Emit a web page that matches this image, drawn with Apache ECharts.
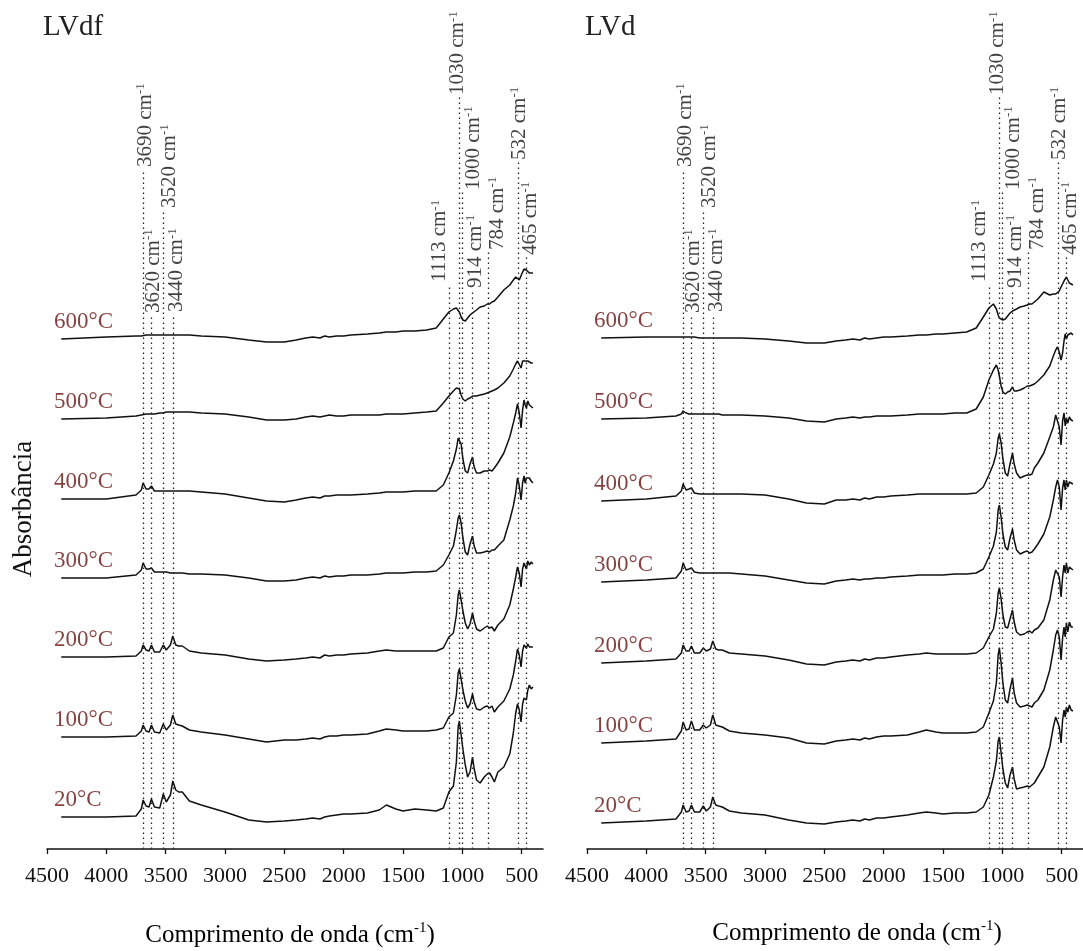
<!DOCTYPE html>
<html>
<head>
<meta charset="utf-8">
<script src="https://cdn.jsdelivr.net/npm/echarts@6/dist/echarts.min.js"></script>
<style>
  html, body { margin: 0; padding: 0; background: #fff; }
  #chart { width: 1083px; height: 951px; }
</style>
</head>
<body>
<div id="chart"></div>
<script>
  // wavenumbers (cm-1) shared by every spectrum
  var wn = [4380, 4000, 3750,
    3705, 3690, 3665, 3640, 3620, 3595, 3550, 3520, 3495, 3460, 3440, 3415, 3390, 3360, 3300, 3200,
    3000, 2800, 2650, 2500, 2400, 2320, 2260, 2200, 2160, 2120, 2060, 2000, 1940, 1800, 1700, 1640, 1560, 1500, 1400, 1300, 1220, 1160,
    1113, 1075, 1050, 1035, 1025, 1010, 995, 975, 955, 935, 914, 900, 880, 850, 815, 790, 770, 750, 730, 700, 650,
    600, 570, 550, 535, 520, 505, 492, 480, 470, 460, 448, 435, 420, 405];

  var temps = ['20°C', '100°C', '200°C', '300°C', '400°C', '500°C', '600°C'];

  // vertical offset of each spectrum (stacked plot)
  var lvdfOffset = [32, 112, 192, 271, 350, 430, 510];
  var lvdOffset = [26, 106, 186, 267, 348, 430, 511];

  // LVdf spectra
  var lvdf20 = [0, 0, 1,
    8, 17, 11, 10, 18, 10, 9, 23, 15, 22, 36, 27, 25, 25, 16, 12,
    5, -3, -5, -4, -3, -2, -1, -2, 0, 1, 2, 3, 3, 4, 7, 12, 8, 6, 8, 7, 6, 9,
    25, 31, 55, 90, 96, 82, 68, 52, 40, 45, 60, 48, 37, 34, 40, 43, 44, 40, 35, 45, 50,
    63, 84, 104, 113, 107, 95, 113, 119, 121, 117, 127, 132, 128, 130];
  var lvdf100 = [0, 0, 1,
    6, 12, 6, 5, 12, 5, 4, 13, 7, 12, 22, 13, 12, 11, 7, 5,
    2, -2, -5, -3, -3, -2, -1, -2, 0, 1, 1, 2, 2, 3, 6, 8, 7, 6, 6, 6, 7, 9,
    20, 24, 42, 64, 68, 58, 47, 36, 29, 33, 43, 35, 28, 27, 30, 31, 29, 31, 25, 30, 36,
    48, 62, 76, 88, 82, 70, 86, 92, 94, 89, 93, 90, 92, 90];
  var lvdf200 = [0, 0, 1,
    6, 12, 7, 6, 12, 5, 5, 12, 7, 12, 21, 12, 11, 11, 6, 4,
    2, -2, -4, -3, -2, -1, 0, -1, 2, 1, 2, 2, 3, 4, 6, 7, 6, 6, 6, 6, 6, 9,
    20, 24, 42, 62, 67, 57, 46, 34, 28, 33, 44, 36, 28, 26, 29, 31, 29, 30, 26, 32, 38,
    52, 68, 80, 90, 84, 70, 88, 94, 92, 88, 96, 92, 95, 93];
  var lvdf300 = [0, 0, 3,
    8, 15, 9, 9, 10, 6, 6, 6, 6, 5, 5, 5, 5, 5, 4, 4,
    3, 0, -3, -3, -2, 0, 1, 0, 2, 1, 2, 2, 3, 3, 4, 5, 5, 5, 6, 6, 7, 13,
    23, 32, 48, 60, 63, 55, 40, 26, 23, 34, 42, 32, 25, 25, 26, 27, 26, 28, 28, 32, 38,
    58, 72, 85, 100, 92, 78, 95, 102, 95, 100, 102, 100, 97, 95];
  var lvdf400 = [0, 0, 4,
    9, 16, 10, 10, 13, 8, 8, 8, 8, 8, 8, 8, 8, 8, 8, 7,
    5, 1, -2, -3, -1, 1, 2, 1, 3, 3, 4, 4, 4, 5, 6, 7, 7, 7, 8, 8, 8, 14,
    26, 38, 50, 61, 63, 55, 40, 28, 26, 35, 42, 32, 26, 26, 28, 28, 29, 28, 31, 36, 46,
    62, 76, 86, 95, 86, 71, 89, 99, 94, 91, 98, 94, 93, 91];
  var lvdf500 = [0, 1, 3,
    4, 5, 5, 5, 5, 5, 6, 6, 7, 7, 7, 7, 7, 7, 7, 6,
    5, 2, -1, -1, 0, 2, 3, 2, 3, 4, 3, 3, 4, 4, 4, 5, 5, 5, 6, 7, 8, 16,
    23, 28, 31, 32, 30, 24, 20, 18, 20, 21, 23, 22, 23, 24, 25, 26, 27, 28, 29, 31, 36,
    43, 50, 55, 58, 56, 51, 58, 59, 58, 58, 58, 57, 56, 56];
  var lvdf600 = [0, 2, 3,
    3, 4, 4, 4, 4, 4, 4, 4, 4, 4, 4, 4, 4, 4, 4, 3,
    2, -1, -3, -3, -1, 1, 2, 1, 3, 2, 3, 3, 4, 5, 6, 7, 7, 8, 8, 9, 11, 20,
    27, 30, 31, 30, 27, 22, 19, 18, 21, 24, 26, 28, 29, 32, 33, 35, 35, 37, 38, 42, 49,
    54, 59, 62, 62, 59, 60, 67, 70, 71, 69, 68, 66, 67, 66];

  // LVd spectra
  var lvd20 = [0, 2, 4,
    11, 18, 11, 12, 18, 11, 11, 17, 12, 16, 26, 18, 17, 16, 12, 10,
    8, 3, 0, -1, 1, 2, 3, 2, 4, 3, 5, 5, 6, 8, 10, 11, 10, 9, 10, 10, 11, 16,
    28, 46, 62, 82, 86, 70, 54, 40, 35, 48, 56, 44, 34, 35, 36, 37, 36, 38, 40, 46, 56,
    76, 96, 106, 108, 96, 80, 103, 113, 106, 116, 111, 118, 113, 112];
  var lvd100 = [0, 2, 4,
    12, 21, 13, 14, 22, 13, 13, 18, 15, 18, 28, 18, 17, 16, 12, 10,
    8, 5, 0, -1, 2, 3, 4, 3, 5, 4, 6, 7, 7, 8, 11, 13, 11, 10, 10, 10, 11, 16,
    30, 42, 60, 88, 95, 80, 60, 43, 40, 54, 65, 50, 40, 36, 37, 38, 37, 36, 40, 43, 53,
    73, 93, 108, 113, 106, 83, 105, 116, 106, 120, 111, 121, 116, 116];
  var lvd200 = [0, 2, 4,
    10, 18, 12, 12, 17, 10, 10, 15, 12, 14, 22, 14, 13, 13, 10, 9,
    7, 3, -1, -2, 1, 2, 3, 2, 4, 3, 5, 5, 6, 8, 9, 10, 9, 9, 9, 9, 10, 15,
    26, 34, 50, 70, 75, 64, 48, 36, 35, 44, 53, 41, 31, 28, 29, 31, 32, 30, 33, 35, 43,
    63, 83, 93, 95, 86, 66, 86, 98, 90, 100, 90, 96, 94, 93];
  var lvd300 = [0, 2, 4,
    11, 19, 12, 13, 14, 10, 9, 9, 9, 9, 9, 9, 9, 9, 9, 8,
    6, 2, -1, -2, 1, 2, 3, 2, 3, 3, 4, 4, 5, 6, 7, 7, 7, 7, 8, 8, 9, 13,
    25, 36, 50, 72, 77, 65, 48, 35, 32, 44, 53, 42, 32, 28, 30, 31, 29, 30, 33, 38, 48,
    65, 82, 95, 102, 95, 72, 94, 102, 92, 102, 95, 100, 98, 98];
  var lvd400 = [0, 2, 5,
    10, 17, 11, 12, 13, 8, 7, 7, 7, 7, 7, 7, 7, 7, 7, 7,
    6, 2, -2, -3, 1, 1, 2, 1, 3, 2, 4, 4, 5, 6, 7, 7, 7, 7, 7, 7, 8, 14,
    26, 37, 48, 63, 67, 58, 42, 28, 25, 37, 48, 37, 28, 23, 25, 26, 26, 27, 33, 38, 48,
    64, 74, 86, 88, 74, 56, 80, 88, 75, 83, 78, 84, 81, 80];
  var lvd500 = [0, 1, 3,
    5, 8, 6, 5, 5, 5, 5, 5, 5, 5, 5, 5, 5, 4, 4, 4,
    3, 1, -2, -3, 0, 1, 2, 1, 2, 2, 3, 3, 3, 4, 5, 5, 5, 5, 6, 6, 10, 22,
    39, 49, 54, 49, 43, 33, 27, 25, 27, 28, 32, 28, 28, 29, 31, 33, 33, 34, 35, 38, 44,
    53, 63, 69, 72, 67, 59, 66, 78, 85, 80, 84, 83, 86, 84];
  var lvd600 = [0, 1, 1,
    1, 1, 1, 1, 1, 1, 0, 0, 0, 0, 0, 0, 0, 0, 0, 0,
    -1, -3, -5, -5, -3, -2, -1, -2, 0, -1, 0, 1, 1, 2, 3, 3, 4, 4, 5, 6, 10, 21,
    30, 34, 29, 23, 20, 18, 18, 19, 22, 25, 27, 28, 29, 31, 32, 33, 34, 34, 36, 39, 46,
    43, 44, 44, 44, 47, 51, 54, 57, 59, 61, 58, 55, 53, 53];

  // marked bands
  var peakWn = [3690, 3620, 3520, 3440, 1113, 1030, 1000, 914, 784, 532, 465];
  // where each rotated label sits (x in cm-1, y = bottom of label)
  var peakLabelAt = [3673, 3603, 3469, 3406, 1189, 1038, 909, 892, 707, 521, 428];
  var peakLabelBase = [682, 536, 641, 537, 567, 754, 659, 561, 599, 689, 594];

  var xTicks = [4500, 4000, 3500, 3000, 2500, 2000, 1500, 1000, 500];

  var serif = 'Liberation Serif';
  var chart = echarts.init(document.getElementById('chart'));

  function panelSeries(idx, spectra, offsets) {
    var out = [];
    spectra.forEach(function (arr, i) {
      out.push({
        type: 'line',
        xAxisIndex: idx,
        yAxisIndex: idx,
        data: wn.map(function (w, k) { return [w, arr[k] + offsets[i]]; }),
        symbol: 'none',
        silent: true,
        lineStyle: { color: '#111', width: 1.5 }
      });
    });
    // temperature labels
    out.push({
      type: 'scatter',
      xAxisIndex: idx,
      yAxisIndex: idx,
      silent: true,
      symbolSize: 1,
      itemStyle: { color: 'transparent' },
      data: temps.map(function (t, i) {
        return { value: [4440, offsets[i] + spectra[i][0] + 17], name: t };
      }),
      label: {
        show: true,
        position: 'inside',
        align: 'left',
        verticalAlign: 'middle',
        formatter: function (p) { return p.name; },
        fontFamily: serif,
        fontSize: 23,
        color: '#661010'
      }
    });
    // band lines + labels
    out.push({
      type: 'scatter',
      xAxisIndex: idx,
      yAxisIndex: idx,
      silent: true,
      symbolSize: 1,
      itemStyle: { color: 'transparent' },
      data: peakLabelAt.map(function (x, k) {
        return { value: [x, peakLabelBase[k]], name: String(peakWn[k]) };
      }),
      label: {
        show: true,
        position: 'inside',
        align: 'left',
        verticalAlign: 'middle',
        rotate: 90,
        formatter: function (p) { return '{n|' + p.name + ' cm}{s|-1}'; },
        rich: {
          n: { fontFamily: serif, fontSize: 21, color: '#111', lineHeight: 22 },
          s: { fontFamily: serif, fontSize: 13, color: '#111', verticalAlign: 'top' }
        }
      },
      markLine: {
        silent: true,
        symbol: ['none', 'none'],
        animation: false,
        label: { show: false },
        lineStyle: { color: '#222', type: [1.5, 3.5], width: 1.3 },
        data: peakWn.map(function (w, k) {
          return [{ coord: [w, 0] }, { coord: [w, peakLabelBase[k] - 2] }];
        })
      }
    });
    return out;
  }

  function xAxisFor(idx) {
    return {
      type: 'value',
      gridIndex: idx,
      inverse: true,
      min: 320,
      max: 4500,
      axisLine: { lineStyle: { color: '#111', width: 1.5 } },
      axisTick: { show: true, length: 5, customValues: xTicks, lineStyle: { color: '#111', width: 1.3 } },
      axisLabel: {
        customValues: xTicks,
        formatter: function (v) { return String(v); },
        fontFamily: serif, fontSize: 22, color: '#111', margin: 16
      },
      splitLine: { show: false }
    };
  }

  function yAxisFor(idx) {
    return {
      type: 'value',
      gridIndex: idx,
      min: 0,
      max: 844,
      axisLine: { show: false },
      axisTick: { show: false },
      axisLabel: { show: false },
      splitLine: { show: false }
    };
  }

  var titleRich = {
    a: { fontFamily: serif, fontSize: 25, color: '#111', lineHeight: 28 },
    s: { fontFamily: serif, fontSize: 15, color: '#111', verticalAlign: 'top' }
  };

  chart.setOption({
    animation: false,
    backgroundColor: '#fff',
    grid: [
      { left: 47, top: 5, width: 496, height: 844 },
      { left: 587, top: 5, width: 496, height: 844 }
    ],
    xAxis: [xAxisFor(0), xAxisFor(1)],
    yAxis: [yAxisFor(0), yAxisFor(1)],
    graphic: [
      { type: 'text', left: 43, top: 13, style: { text: 'LVdf', fontFamily: serif, fontSize: 29, fill: '#222' } },
      { type: 'text', left: 585, top: 13, style: { text: 'LVd', fontFamily: serif, fontSize: 29, fill: '#222' } },
      { type: 'text', x: 24, y: 509, rotation: Math.PI / 2,
        style: { text: 'Absorbância', fontFamily: serif, fontSize: 27, fill: '#111', align: 'center', verticalAlign: 'middle' } },
      { type: 'text', x: 290, y: 935, style: { text: '{a|Comprimento de onda (cm}{s|-1}{a|)}', rich: titleRich, align: 'center', verticalAlign: 'middle' } },
      { type: 'text', x: 857, y: 933, style: { text: '{a|Comprimento de onda (cm}{s|-1}{a|)}', rich: titleRich, align: 'center', verticalAlign: 'middle' } }
    ],
    series: panelSeries(0, [lvdf20, lvdf100, lvdf200, lvdf300, lvdf400, lvdf500, lvdf600], lvdfOffset)
      .concat(panelSeries(1, [lvd20, lvd100, lvd200, lvd300, lvd400, lvd500, lvd600], lvdOffset))
  });
</script>
</body>
</html>
